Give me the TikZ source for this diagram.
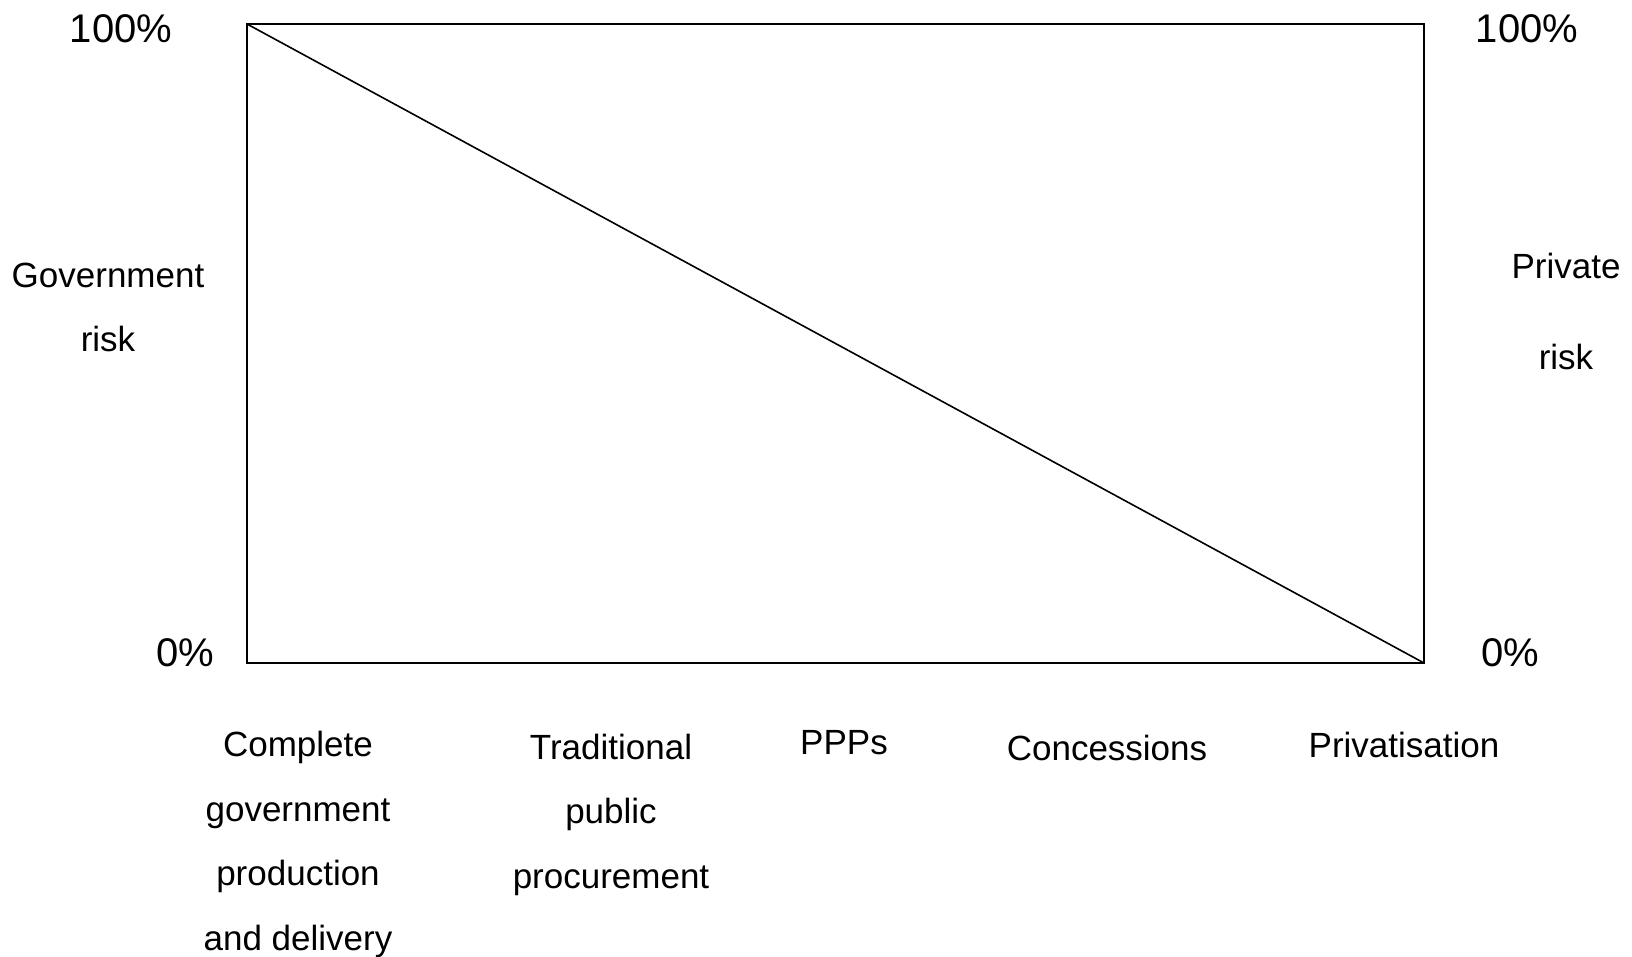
\documentclass[tikz,border=0pt]{standalone}
\usepackage{fontspec}
\setmainfont{Liberation Sans}
\usepackage{tikz}
\tikzset{
	axistext/.style={
			font=\fontsize{35}{64.5}\selectfont,
			anchor=base, inner sep=0pt, align=center
		},
	percent/.style={axistext, font=\fontsize{40}{48}\selectfont},
	frameline/.style={line width=1.6pt, line join=miter}
}

\begin{document}
\begin{tikzpicture}[x=1pt, y=-1pt]
				\useasboundingbox (0,0) rectangle (1632,957);
				\coordinate (tl) at (247,24);
				\coordinate (tr) at (1424,24);
				\coordinate (br) at (1424,663);
				\coordinate (bl) at (247,663);
				\draw [black, frameline]	(tl) -- (tr) -- (br) -- (bl) -- cycle;
				\draw [black, frameline] (tl) to (br);
				% scale values
				\node [percent] (govtop) at (121,43) {100\%};
				\node [percent] (govbottom) at (185,666) {0\%};
				\node [percent] (privtop) at (1527,43) {100\%};
				\node [percent] (privbottom) at (1510,666) {0\%};
				% side labels (base = last line)
				\node [axistext] (govrisk) at (108,352) {Government\\risk};
				\node [axistext, font=\fontsize{35}{92}\selectfont] (privrisk) at (1566,370) {Private\\risk};
				% forms of provision
				\node [axistext] (complete) at (298,950) {Complete\\government\\production\\and delivery};
				\node [axistext] (traditional) at (611,888) {Traditional\\public\\procurement};
				\node [axistext] (ppps) at (844,754) {PPPs};
				\node [axistext] (concessions) at (1107,760) {Concessions};
				\node [axistext] (privatisation) at (1404,757) {Privatisation};
			\end{tikzpicture}
\end{document}
